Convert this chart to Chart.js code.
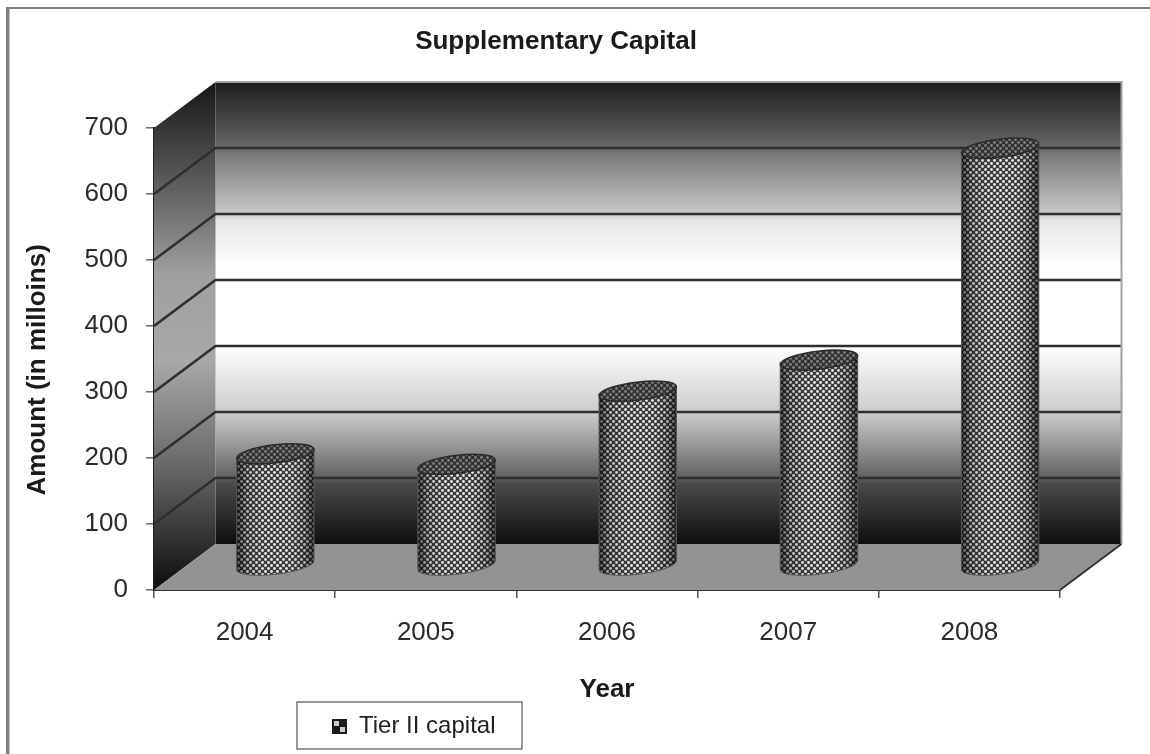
<!DOCTYPE html>
<html>
<head>
<meta charset="utf-8">
<title>Supplementary Capital</title>
<script src="https://cdn.jsdelivr.net/npm/chart.js@4"></script>
<style>
    body { margin: 0; background: #fff; }
    canvas { display: block; }
</style>
</head>
<body>
<canvas id="capitalChart" width="1150" height="754"></canvas>
<script>
const years = ["2004", "2005", "2006", "2007", "2008"];
const tierTwo = [170, 154, 265, 312, 633];

const FONT = "'Liberation Sans', Arial, sans-serif";
const DEPTH_X = 61.5;
const DEPTH_Y = 46;

// dotted fill used on the cylinders
function dotTile() {
    const tile = document.createElement("canvas");
    tile.width = 6;
    tile.height = 6;
    const c = tile.getContext("2d");
    c.fillStyle = "#3c3c3c";
    c.fillRect(0, 0, 6, 6);
    c.fillStyle = "#e8e8e8";
    [[1.5, 1.5], [4.5, 4.5]].forEach(([x, y]) => {
        c.beginPath();
        c.arc(x, y, 1.45, 0, Math.PI * 2);
        c.fill();
    });
    return tile;
}

function legendSwatch() {
    const s = document.createElement("canvas");
    s.width = 15;
    s.height = 15;
    const c = s.getContext("2d");
    c.fillStyle = "#1c1c1c";
    c.fillRect(0, 0, 15, 15);
    c.fillStyle = "#ccc";
    c.fillRect(2, 2, 5, 5);
    c.fillRect(8, 8, 5, 5);
    return s;
}

function wallGradient(ctx, top, bottom, stops) {
    const g = ctx.createLinearGradient(0, top, 0, bottom);
    stops.forEach(([at, color]) => g.addColorStop(at, color));
    return g;
}

function polygon(ctx, points, fill) {
    ctx.beginPath();
    points.forEach(([x, y], i) => (i ? ctx.lineTo(x, y) : ctx.moveTo(x, y)));
    ctx.closePath();
    ctx.fillStyle = fill;
    ctx.fill();
}

const frame3d = {
    id: "frame3d",
    afterLayout(chart) {
        // title and legend sit off-centre, under the plot
        const { titleBlock, legend } = chart;
        titleBlock.left = 0;
        titleBlock.right = 1112;
        legend.left = 332;
        legend.right = 522;
        legend.top = 703;
        legend.bottom = 750;
    },
    beforeDraw(chart) {
        const { ctx } = chart;
        ctx.save();
        ctx.fillStyle = "#808080";
        ctx.fillRect(6, 7, 3.5, 747);
        ctx.fillRect(6, 7, 1144, 2);
        ctx.strokeStyle = "#777";
        ctx.lineWidth = 1.5;
        ctx.strokeRect(297, 702, 225, 47);
        ctx.restore();
    },
    beforeDatasetsDraw(chart) {
        const { ctx, chartArea: a, scales } = chart;
        const backL = a.left + DEPTH_X;
        const backR = a.right + DEPTH_X;
        const backT = a.top - DEPTH_Y;
        const backB = a.bottom - DEPTH_Y;

        ctx.save();
        polygon(ctx, [[backL, backT], [backR, backT], [backR, backB], [backL, backB]],
            wallGradient(ctx, backT, backB, [
                [0, "#1c1c1c"], [0.143, "#686868"], [0.16, "#7c7c7c"],
                [0.28, "#c6c6c6"], [0.3, "#e6e6e6"], [0.4, "#fff"],
                [0.57, "#fff"], [0.72, "#cacaca"], [0.85, "#666"],
                [0.87, "#4a4a4a"], [1, "#0e0e0e"],
            ]));
        polygon(ctx, [[a.left, a.top], [backL, backT], [backL, backB], [a.left, a.bottom]],
            wallGradient(ctx, backT, a.bottom, [
                [0, "#161616"], [0.2, "#5c5c5c"], [0.38, "#a0a0a0"],
                [0.55, "#a8a8a8"], [0.75, "#6a6a6a"], [1, "#0c0c0c"],
            ]));
        polygon(ctx, [[a.left, a.bottom], [backL, backB], [backR, backB], [a.right, a.bottom]], "#939393");

        // gridlines run across the side wall and the back wall
        ctx.strokeStyle = "#2e2e2e";
        ctx.lineWidth = 2.5;
        scales.y.ticks.forEach((tick) => {
            if (tick.value === 0 || tick.value === 700) return;
            const y = scales.y.getPixelForValue(tick.value);
            ctx.beginPath();
            ctx.moveTo(a.left, y);
            ctx.lineTo(backL, y - DEPTH_Y);
            ctx.lineTo(backR, y - DEPTH_Y);
            ctx.stroke();
        });

        ctx.strokeStyle = "#a0a0a0";
        ctx.lineWidth = 2;
        ctx.beginPath();
        ctx.moveTo(backL, backT);
        ctx.lineTo(backR, backT);
        ctx.lineTo(backR, backB);
        ctx.stroke();

        ctx.strokeStyle = "#333";
        ctx.lineWidth = 2;
        ctx.beginPath();
        ctx.moveTo(backR, backB);
        ctx.lineTo(a.right, a.bottom);
        ctx.stroke();
        ctx.restore();
    },
    afterDatasetsDraw(chart) {
        const { ctx } = chart;
        const dots = ctx.createPattern(dotTile(), "repeat");
        const tilt = -0.12;
        const ry = 9;
        const outline = "#2a2a2a";

        chart.getDatasetMeta(0).data.forEach((bar) => {
            const rx = bar.width / 2;
            const cx = bar.x + DEPTH_X / 2;
            const topY = bar.y - DEPTH_Y / 2 - 1;
            const baseY = bar.base - DEPTH_Y / 2 - 1;
            const left = cx - rx;

            ctx.save();
            ctx.beginPath();
            ctx.ellipse(cx, baseY, rx, ry, tilt, 0, Math.PI);
            ctx.ellipse(cx, topY, rx, ry, tilt, Math.PI, 0, true);
            ctx.closePath();
            ctx.fillStyle = dots;
            ctx.fill();

            // round the body off with darker edges
            const shade = ctx.createLinearGradient(left, 0, left + rx * 2, 0);
            shade.addColorStop(0, "rgba(0,0,0,0.65)");
            shade.addColorStop(0.14, "rgba(0,0,0,0.2)");
            shade.addColorStop(0.35, "rgba(0,0,0,0)");
            shade.addColorStop(0.7, "rgba(0,0,0,0)");
            shade.addColorStop(0.88, "rgba(0,0,0,0.25)");
            shade.addColorStop(1, "rgba(0,0,0,0.65)");
            ctx.fillStyle = shade;
            ctx.fill();
            ctx.strokeStyle = "#555";
            ctx.lineWidth = 1;
            ctx.stroke();

            ctx.beginPath();
            ctx.ellipse(cx, topY, rx, ry, tilt, 0, Math.PI * 2);
            ctx.fillStyle = dots;
            ctx.fill();
            ctx.fillStyle = "rgba(40,40,40,0.55)";
            ctx.fill();
            ctx.strokeStyle = outline;
            ctx.lineWidth = 1.5;
            ctx.stroke();
            ctx.restore();
        });
    },
};

new Chart(document.getElementById("capitalChart"), {
    type: "bar",
    data: {
        labels: years,
        datasets: [
            {
                label: "Tier II capital",
                data: tierTwo,
                backgroundColor: "transparent",
                barPercentage: 0.43,
                categoryPercentage: 1,
            },
        ],
    },
    plugins: [frame3d],
    options: {
        responsive: false,
        animation: false,
        layout: { padding: { left: 0, right: 90, top: 0, bottom: 0 } },
        plugins: {
            title: {
                display: true,
                text: "Supplementary Capital",
                color: "#1a1a1a",
                font: { family: FONT, size: 26, weight: "bold" },
                padding: { top: 26, bottom: 70.8 },
            },
            legend: {
                position: "chartArea",
                labels: {
                    usePointStyle: true,
                    pointStyle: legendSwatch(),
                    pointStyleWidth: 15,
                    color: "#222",
                    font: { family: FONT, size: 24 },
                    padding: 0,
                },
            },
            tooltip: { enabled: false },
        },
        scales: {
            x: {
                afterFit: (scale) => { scale.height = 164; },
                border: { color: "#333", width: 2 },
                grid: { drawOnChartArea: false, color: "#555", lineWidth: 1.5, tickLength: 8 },
                ticks: { color: "#2a2a2a", padding: 19, font: { family: FONT, size: 26 } },
                title: {
                    display: true,
                    text: "Year",
                    color: "#1a1a1a",
                    font: { family: FONT, size: 26, weight: "bold" },
                    padding: { top: 0, bottom: 48.4 },
                },
            },
            y: {
                min: 0,
                max: 700,
                afterFit: (scale) => { scale.width = 154; },
                border: { color: "#222", width: 2 },
                grid: { drawOnChartArea: false, color: "#666", lineWidth: 1.5, tickLength: 8 },
                ticks: { stepSize: 100, color: "#2a2a2a", padding: 18, font: { family: FONT, size: 26 } },
                title: {
                    display: true,
                    text: "Amount (in milloins)   ",
                    color: "#1a1a1a",
                    font: { family: FONT, size: 26, weight: "bold" },
                    padding: { top: 22, bottom: 0 },
                },
            },
        },
    },
});
</script>
</body>
</html>
